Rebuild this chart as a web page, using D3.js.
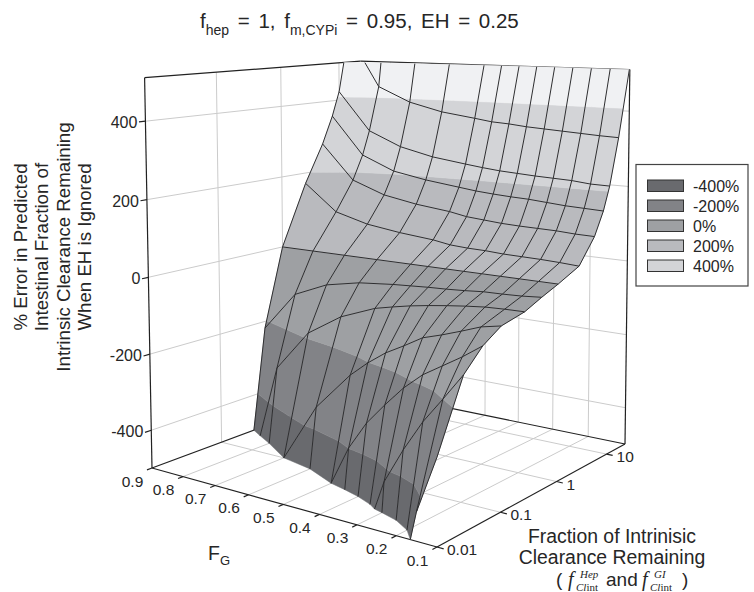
<!DOCTYPE html>
<html>
<head>
<meta charset="utf-8">
<style>
body { margin: 0; background: #fff; }
text { font-family: "Liberation Sans", Arial, sans-serif; fill: #262626; }
.serif { font-family: "Liberation Serif", serif; font-style: italic; }
</style>
</head>
<body>
<svg width="754" height="592"></svg>
<script src="https://cdn.jsdelivr.net/npm/d3@7"></script>
<script>
// values
const fgValues = [0.9, 0.8, 0.7, 0.6, 0.5, 0.45, 0.4, 0.35, 0.3, 0.25, 0.2, 0.15, 0.1];
const clValues = [0.01, 0.025, 0.05, 0.1, 0.25, 0.5, 1, 2.5, 5, 7.5, 10, 15, 25];
// one row per clValues entry, one column per fgValues entry (the plot cuts it off at the box)
const errorValues = [
  [-3000, -2600, -2300, -2000, -1800, -1700, -1600, -1500, -1300, -930, -657, -433, -296],
  [-2500, -1800, -1500, -1240, -1030, -890, -717, -570, -428, -340, -263, -200, -135],
  [-2000, -1300, -950, -800, -499, -399, -326, -271, -220, -179, -149, -119, -85],
  [-1500, -890, -500, -344, -242, -202, -168, -142, -114, -99, -82, -64, -54],
  [-650, -299, -186, -127, -90, -79, -69, -61, -54, -48, -43, -41, -40],
  [-219, -109, -69, -50, -41, -38, -35, -33, -30, -26, -25, -23, -19],
  [0, 0, 0, 0, 0, 0, 0, 0, 0, 0, 0, 0, 0],
  [170, 97, 72, 59, 50, 42, 39, 38, 35, 34, 33, 31, 28],
  [277, 179, 145, 128, 117, 108, 104, 100, 98, 97, 96, 93, 92],
  [355, 247, 208, 191, 179, 173, 169, 166, 164, 160, 156, 154, 152],
  [425, 315, 275, 253, 240, 234, 229, 226, 223, 221, 219, 214, 213],
  [593, 441, 400, 377, 364, 357, 354, 349, 346, 343, 340, 337, 335],
  [1000, 800, 650, 580, 545, 535, 530, 527, 525, 523, 521, 520, 519]
];
const zTicks = [400, 200, 0, -200, -400];
const fgTicks = [0.9, 0.8, 0.7, 0.6, 0.5, 0.4, 0.3, 0.2, 0.1];
const clTicks = [0.01, 0.1, 1, 10];
const legendLabels = ["-400%", "-200%", "0%", "200%", "400%"];
const bandEdges = [-Infinity, -400, -200, 0, 200, 410, Infinity];
const bandColors = ["#696a6e", "#828387", "#9ea0a3", "#b9babe", "#d3d4d7", "#f0f1f3"];

const svg = d3.select("svg");

const u = d3.scaleLinear().domain([0.1, 0.9]).range([0, 1]);
const v = d3.scaleLog().domain([0.01, 25]).range([0, 1]);
const w = d3.scaleLinear().domain([-500, 510]).range([0, 1]);
const zMin = w.domain()[0], zMax = w.domain()[1];

// perspective box: front corner, the corners along fg and cl, top of the front edge
const front = [437, 547], cornerFg = [152, 468], cornerCl = [625, 444], topFront = [424, 88];
const pa = 1.17, pb = 1.22, pc = 0.97;

function project(p) {
  const den = 1 + (pa - 1) * p.a + (pb - 1) * p.b + (pc - 1) * p.c;
  return [0, 1].map(k => (front[k]
    + p.a * (pa * cornerFg[k] - front[k])
    + p.b * (pb * cornerCl[k] - front[k])
    + p.c * (topFront[k] - front[k])) / den);
}
const pt = (fg, cl, z) => ({ a: u(fg), b: v(cl), z: z, c: w(z) });
const line = d3.line().x(d => d[0]).y(d => d[1]);
const seg = (p, q) => line([p, q].map(project));

// box walls
const fg0 = 0.9, fg1 = 0.1, cl0 = 0.01, cl1 = 25;
const grid = svg.append("g").attr("fill", "none").attr("stroke", "#cbcbcb").attr("stroke-width", 1);
zTicks.forEach(z => {
  grid.append("path").attr("d", seg(pt(fg0, cl0, z), pt(fg0, cl1, z)));
  grid.append("path").attr("d", seg(pt(fg0, cl1, z), pt(fg1, cl1, z)));
});
clTicks.slice(1).forEach(cl => {
  grid.append("path").attr("d", seg(pt(fg0, cl, zMin), pt(fg0, cl, zMax)));
  grid.append("path").attr("d", seg(pt(fg0, cl, zMin), pt(fg1, cl, zMin)));
});
fgTicks.slice(1, -1).forEach(fg => {
  grid.append("path").attr("d", seg(pt(fg, cl1, zMin), pt(fg, cl1, zMax)));
  grid.append("path").attr("d", seg(pt(fg, cl0, zMin), pt(fg, cl1, zMin)));
});

const frame = svg.append("g").attr("fill", "none").attr("stroke", "#222").attr("stroke-width", 1.2);
[
  [pt(fg0, cl0, zMin), pt(fg0, cl0, zMax)],
  [pt(fg0, cl0, zMax), pt(fg0, cl1, zMax)],
  [pt(fg0, cl1, zMax), pt(fg1, cl1, zMax)],
  [pt(fg1, cl1, zMin), pt(fg1, cl1, zMax)],
  [pt(fg0, cl0, zMin), pt(fg1, cl0, zMin)],
  [pt(fg1, cl0, zMin), pt(fg1, cl1, zMin)],
  [pt(fg0, cl0, zMin), pt(fg0, cl1, zMin)],
  [pt(fg0, cl1, zMin), pt(fg1, cl1, zMin)]
].forEach(s => frame.append("path").attr("d", seg(s[0], s[1])));

// ticks and labels
zTicks.forEach(z => {
  const p = pt(fg0, cl0, z), xy = project(p);
  frame.append("path").attr("d", seg(p, { a: p.a, b: -0.025, c: p.c }));
  svg.append("text").attr("x", xy[0] - 8).attr("y", xy[1] + 7).attr("text-anchor", "end")
    .attr("font-size", 16).text(z);
});
fgTicks.forEach(fg => {
  const p = pt(fg, cl0, zMin), xy = project(p);
  frame.append("path").attr("d", seg(p, { a: p.a, b: -0.02, c: p.c }));
  svg.append("text").attr("x", xy[0] - 19.5).attr("y", xy[1] + 18.5).attr("text-anchor", "middle")
    .attr("font-size", 15.5).text(fg);
});
clTicks.forEach(cl => {
  const p = pt(fg1, cl, zMin), xy = project(p);
  frame.append("path").attr("d", seg(p, { a: -0.02, b: p.b, c: p.c }));
  svg.append("text").attr("x", xy[0] + 10).attr("y", xy[1] + 8).attr("font-size", 15.5).text(cl);
});

// cut a polygon to lo <= z <= hi
function cutPolygon(poly, lo, hi) {
  const cross = (p, q, z0) => {
    const t = (z0 - p.z) / (q.z - p.z);
    return { a: p.a + t * (q.a - p.a), b: p.b + t * (q.b - p.b), z: z0, c: w(z0) };
  };
  const pass = (pts, keep, z0) => {
    const res = [];
    pts.forEach((p, i) => {
      const q = pts[(i + 1) % pts.length];
      if (keep(p)) res.push(p);
      if (keep(p) !== keep(q)) res.push(cross(p, q, z0));
    });
    return res;
  };
  return pass(pass(poly, p => p.z >= lo, lo), p => p.z <= hi, hi);
}

// surface, far cells first
const fillLayer = svg.append("g");
const meshLayer = svg.append("g").attr("fill", "none").attr("stroke", "#2e2e30").attr("stroke-width", 1);
const node = (i, j) => pt(fgValues[j], clValues[i], errorValues[i][j]);

for (let j = 0; j < fgValues.length - 1; j++) {
  for (let i = clValues.length - 2; i >= 0; i--) {
    const quad = [node(i, j), node(i, j + 1), node(i + 1, j + 1), node(i + 1, j)];
    bandColors.forEach((col, k) => {
      const lo = Math.max(bandEdges[k], zMin), hi = Math.min(bandEdges[k + 1], zMax);
      const piece = cutPolygon(quad, lo, hi);
      if (piece.length > 2) {
        fillLayer.append("path")
          .attr("d", line(piece.map(project)) + "Z")
          .attr("fill", col).attr("stroke", col).attr("stroke-width", 0.5);
      }
    });
  }
}

function meshLine(p, q) {
  const piece = cutPolygon([p, q], zMin, zMax);
  if (piece.length > 1) meshLayer.append("path").attr("d", seg(piece[0], piece[1]));
}
clValues.forEach((cl, i) => fgValues.forEach((fg, j) => {
  if (j < fgValues.length - 1) meshLine(node(i, j), node(i, j + 1));
  if (i < clValues.length - 1) meshLine(node(i, j), node(i + 1, j));
}));

// titles
const title = svg.append("text").attr("x", 200).attr("y", 28).attr("font-size", 20.5)
  .style("white-space", "pre").style("word-spacing", "3px");
[["f", 0], ["hep", 1], [" = 1, f", 0], ["m,CYPi", 1], [" = 0.95, EH = 0.25", 0]].forEach(d => {
  title.append("tspan").attr("font-size", d[1] ? 14 : 20.5)
    .attr("dy", d[1] ? 7 : (d[0] === "f" ? 0 : -7)).text(d[0]);
});

["% Error in Predicted", "Intestinal Fraction of", "Intrinsic Clearance Remaining", "When EH is Ignored"].forEach((t, i) => {
  svg.append("text").attr("transform", `translate(${27 + i * 21.4},247) rotate(-90)`)
    .attr("text-anchor", "middle").attr("font-size", 18.7).text(t);
});

const fgTitle = svg.append("text").attr("x", 208).attr("y", 560).attr("font-size", 19.5);
fgTitle.append("tspan").text("F");
fgTitle.append("tspan").attr("font-size", 13).attr("dy", 5).text("G");

["Fraction of Intrinisic", "Clearance Remaining"].forEach((t, i) => {
  svg.append("text").attr("x", 612).attr("y", 542.5 + i * 21).attr("text-anchor", "middle")
    .attr("font-size", 19.4).text(t);
});
function clearanceSymbol(x, sup) {
  svg.append("text").attr("class", "serif").attr("x", x).attr("y", 586).attr("font-size", 20).text("f");
  svg.append("text").attr("class", "serif").attr("x", x + 12).attr("y", 577.5).attr("font-size", 11).text(sup);
  const sub = svg.append("text").attr("class", "serif").attr("x", x + 8).attr("y", 590.5).attr("font-size", 11);
  sub.append("tspan").text("Cl");
  sub.append("tspan").style("font-style", "normal").text("int");
}
svg.append("text").attr("x", 556).attr("y", 586).attr("font-size", 19).text("(");
clearanceSymbol(568, "Hep");
svg.append("text").attr("x", 606).attr("y", 586).attr("font-size", 19).text("and");
clearanceSymbol(642, "GI");
svg.append("text").attr("x", 682).attr("y", 586).attr("font-size", 19).text(")");

// legend
svg.append("rect").attr("x", 636).attr("y", 164.5).attr("width", 112).attr("height", 121.5)
  .attr("fill", "#fff").attr("stroke", "#444").attr("stroke-width", 1.2);
legendLabels.forEach((t, i) => {
  const y = 180 + i * 20;
  svg.append("rect").attr("x", 647.5).attr("y", y).attr("width", 36).attr("height", 11.5)
    .attr("fill", bandColors[i]).attr("stroke", "#333").attr("stroke-width", 1);
  svg.append("text").attr("x", 693).attr("y", y + 11.5).attr("font-size", 16).text(t);
});
</script>
</body>
</html>
